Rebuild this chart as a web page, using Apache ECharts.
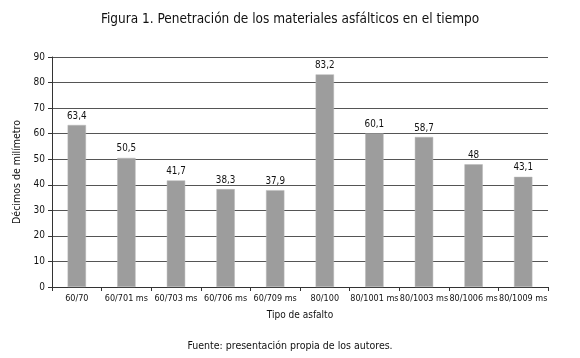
<!DOCTYPE html>
<html>
<head>
<meta charset="utf-8">
<script src="https://cdn.jsdelivr.net/npm/echarts@6/dist/echarts.min.js"></script>
<style>
html,body{margin:0;padding:0;background:#fff;}
#c{width:580px;height:358px;}
</style>
</head>
<body>
<div id="c"></div>
<script>
const categories = ['60/70','60/701 ms','60/703 ms','60/706 ms','60/709 ms','80/100','80/1001 ms','80/1003 ms','80/1006 ms','80/1009 ms'];
const values = [63.4, 50.5, 41.7, 38.3, 37.9, 83.2, 60.1, 58.7, 48, 43.1];
const yTicks = [0,10,20,30,40,50,60,70,80,90];

const FONT = "'DejaVu Sans Condensed', 'Liberation Sans Narrow', sans-serif";
const TXT = '#111';
const chart = echarts.init(document.getElementById('c'), null, {renderer:'canvas'});
chart.setOption({
  animation:false,
  backgroundColor:'#fff',
  textStyle:{fontFamily:FONT},
  title:[
    {text:'Figura 1. Penetración de los materiales asfálticos en el tiempo', left:'center', top:7,
     textStyle:{fontFamily:FONT, fontSize:13.5, fontWeight:'normal', color:TXT}},
    {text:'Fuente: presentación propia de los autores.', left:'center', top:336,
     textStyle:{fontFamily:FONT, fontSize:10.5, fontWeight:'normal', color:TXT}}
  ],
  grid:{left:52, right:32, top:57, bottom:71, containLabel:false},
  xAxis:{
    type:'category', data:categories,
    name:'Tipo de asfalto', nameLocation:'middle', nameGap:23,
    nameTextStyle:{fontFamily:FONT, fontSize:10, color:TXT},
    axisLine:{lineStyle:{color:'#333', width:1}},
    axisTick:{show:true, length:4, lineStyle:{color:'#333'}},
    axisLabel:{fontFamily:FONT, fontSize:9, color:TXT, margin:7, interval:0}
  },
  yAxis:{
    type:'value', min:yTicks[0], max:yTicks[yTicks.length-1], interval:10,
    name:'Décimos de milímetro', nameLocation:'middle', nameGap:27,
    nameTextStyle:{fontFamily:FONT, fontSize:10.5, color:TXT},
    axisLine:{show:true, lineStyle:{color:'#333', width:1}},
    axisTick:{show:true, length:4, lineStyle:{color:'#333'}},
    axisLabel:{fontFamily:FONT, fontSize:10, color:TXT, margin:7},
    splitLine:{show:true, lineStyle:{color:'#555', width:1}}
  },
  series:[{
    type:'bar', data:values, barWidth:'37%',
    itemStyle:{color:'#9d9d9d', borderColor:'#b8b8b8', borderWidth:0.5},
    label:{show:true, position:'top', distance:4, fontFamily:FONT, fontSize:9.8, color:TXT,
      formatter:p=>String(p.value).replace('.',',')}
  }]
});
</script>
</body>
</html>
